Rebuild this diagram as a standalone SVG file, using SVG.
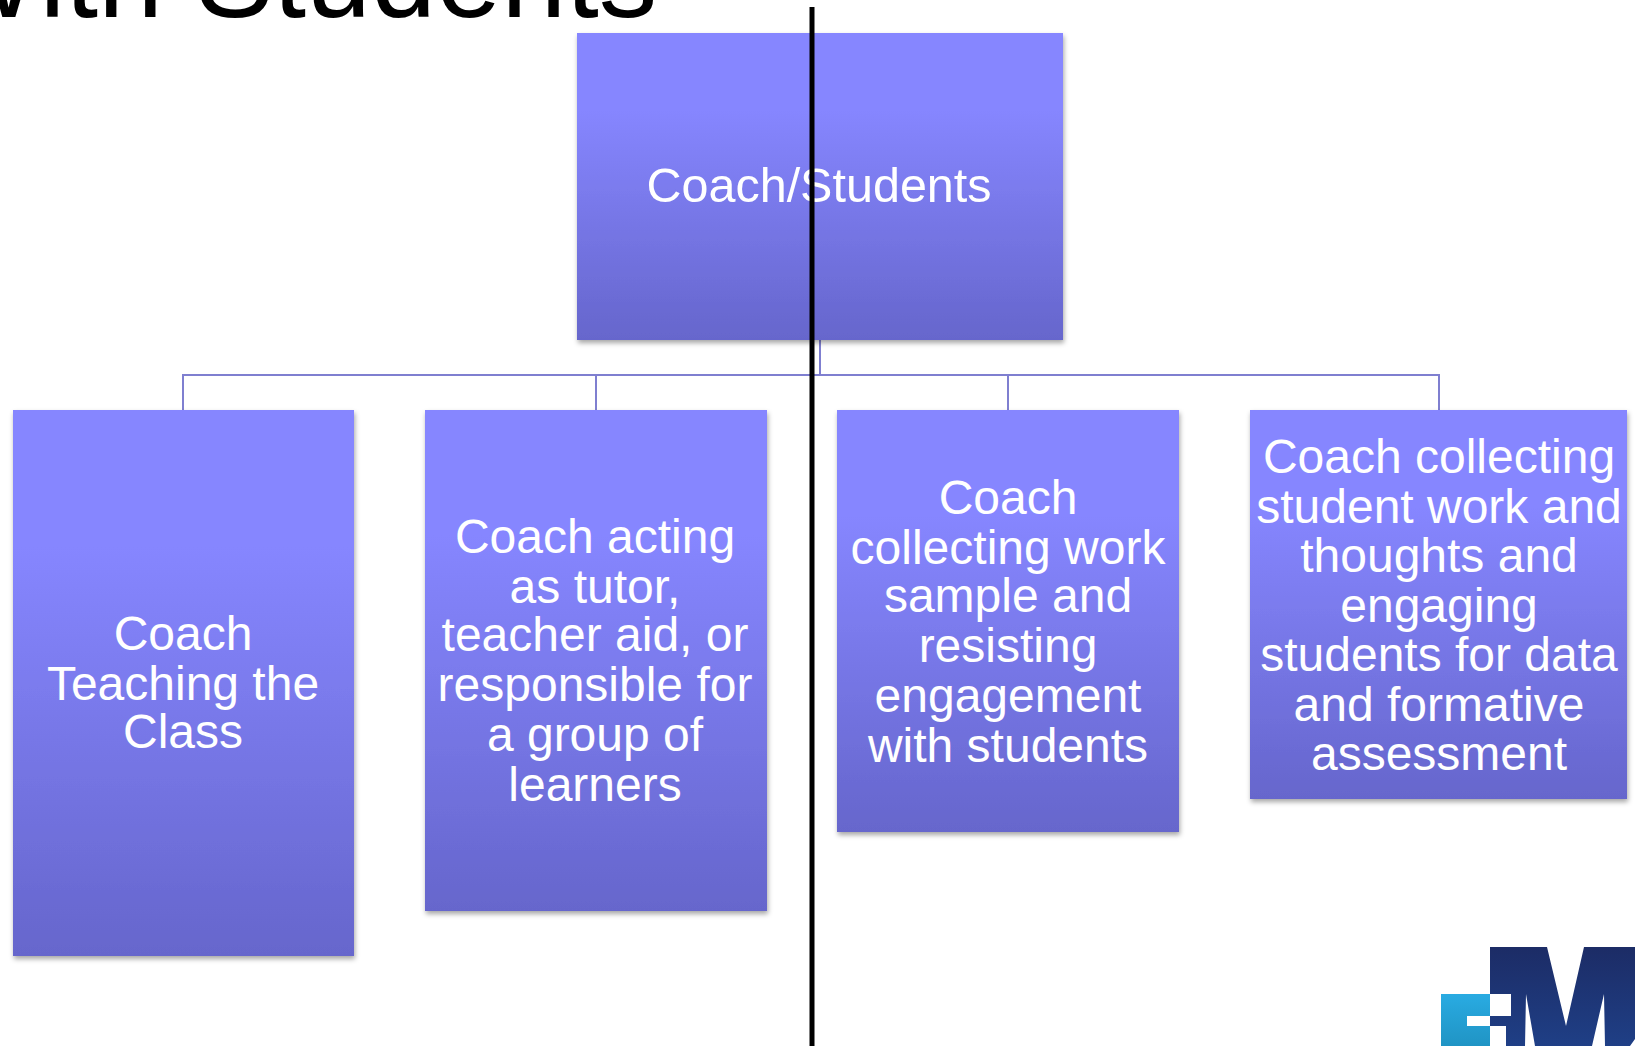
<svg xmlns="http://www.w3.org/2000/svg" width="1635" height="1046" viewBox="0 0 1635 1046">
<style>
.box{fill:url(#g);filter:url(#s)}
.t{font-family:"Liberation Sans",Arial,sans-serif;font-size:48px;fill:#fff;text-anchor:middle}
.c{fill:none;stroke:#7F7FD0;stroke-width:2}
</style>
<defs>
<linearGradient id="g" x1="0" y1="0" x2="0" y2="1"><stop offset="0" stop-color="#8686FF"/><stop offset=".25" stop-color="#8686FF"/><stop offset="1" stop-color="#6666CC"/></linearGradient>
<linearGradient id="navy" gradientUnits="userSpaceOnUse" x1="0" y1="947" x2="0" y2="1046"><stop offset="0" stop-color="#1C2C66"/><stop offset="1" stop-color="#1F3F86"/></linearGradient>
<linearGradient id="cy" x1="0" y1="0" x2="0" y2="1"><stop offset="0" stop-color="#29ABE2"/><stop offset="1" stop-color="#2094C4"/></linearGradient>
<filter id="s" x="-5%" y="-5%" width="110%" height="110%"><feDropShadow dx="1" dy="3" stdDeviation="2.500" flood-color="#000" flood-opacity=".35"/></filter>
</defs>
<text x="-71" y="17" font-family="'Liberation Sans',Arial,sans-serif" font-size="117" fill="#000">With Students</text>
<g id="connectors">
<path class="c" d="M820 340V375M183 410V375H1439V410M596 375V410M1008 375V410"/>
</g>
<g id="root"><rect class="box" x="577" y="33" width="486" height="307"/><text class="t" x="819" y="202" style="font-size:48.500px">Coach/Students</text></g>
<g id="n1"><rect class="box" x="13" y="410" width="341" height="546"/>
<text class="t"><tspan x="183" y="650">Coach</tspan><tspan x="183" y="700">Teaching the</tspan><tspan x="183" y="748">Class</tspan></text></g>
<g id="n2"><rect class="box" x="425" y="410" width="342" height="501"/>
<text class="t"><tspan x="595" y="553">Coach acting</tspan><tspan x="595" y="603">as tutor,</tspan><tspan x="595" y="651">teacher aid, or</tspan><tspan x="595" y="701">responsible for</tspan><tspan x="595" y="751">a group of</tspan><tspan x="595" y="801">learners</tspan></text></g>
<g id="n3"><rect class="box" x="837" y="410" width="342" height="422"/>
<text class="t"><tspan x="1008" y="514">Coach</tspan><tspan x="1008" y="564">collecting work</tspan><tspan x="1008" y="612">sample and</tspan><tspan x="1008" y="662">resisting</tspan><tspan x="1008" y="712">engagement</tspan><tspan x="1008" y="762">with students</tspan></text></g>
<g id="n4"><rect class="box" x="1250" y="410" width="377" height="389"/>
<text class="t"><tspan x="1439" y="473">Coach collecting</tspan><tspan x="1439" y="523">student work and</tspan><tspan x="1439" y="572">thoughts and</tspan><tspan x="1439" y="622">engaging</tspan><tspan x="1439" y="671">students for data</tspan><tspan x="1439" y="721">and formative</tspan><tspan x="1439" y="770">assessment</tspan></text></g>
<rect x="809.500" y="7" width="5" height="1039" fill="#000"/>
<g id="logo">
<path d="M1441 994H1490V1016H1467V1026H1490V1046H1441Z" fill="url(#cy)"/>
<path d="M1490 947H1547L1566 1026L1584 947H1635V1039L1630 1046H1605L1604 994L1592 1046H1535L1526 994L1525 1046H1506V1026H1490V1016H1511V994H1490Z" fill="url(#navy)"/>
</g>
</svg>
